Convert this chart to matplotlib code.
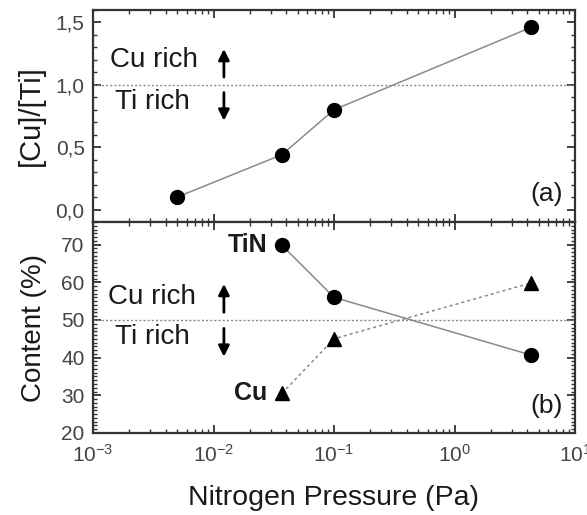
import numpy as np
import matplotlib
matplotlib.use("Agg")
from matplotlib import pyplot as plt
from matplotlib.ticker import MultipleLocator, FuncFormatter, LogLocator

# top panel: [Cu]/[Ti] ratio
p_ratio = [0.005, 0.037, 0.1, 4.3]
ratio = [0.10, 0.44, 0.80, 1.46]

# bottom panel: content (%)
p_content = [0.037, 0.1, 4.3]
tin = [69.8, 56.0, 40.7]
cu = [30.5, 45.0, 59.8]

plt.rcParams['font.family'] = ['Liberation Sans', 'DejaVu Sans']

fig = plt.figure(figsize=(5.87, 5.15), dpi=100)
ax1 = fig.add_axes([93/587, 1-222/515, (575-93)/587, (222-10)/515])
ax2 = fig.add_axes([93/587, 1-433/515, (575-93)/587, (433-222)/515], sharex=ax1)

grey = "#8a8a8a"
txt = "#1a1a1a"

ax1.plot(p_ratio, ratio, "-", color=grey, lw=1.1, zorder=1)
ax1.plot(p_ratio, ratio, "o", color="black", ms=10, zorder=2)
ax1.axhline(1.0, color=grey, ls=(0, (1.5, 1.5)), lw=1)

ax2.plot(p_content, tin, "-", color=grey, lw=1.1, zorder=1)
ax2.plot(p_content, tin, "o", color="black", ms=10, zorder=2)
ax2.plot(p_content, cu, color=grey, ls=(0, (2, 2)), lw=1.1, zorder=1)
ax2.plot(p_content, cu, "^", color="black", ms=10, zorder=2)
ax2.axhline(50, color=grey, ls=(0, (1.5, 1.5)), lw=1)

ax1.set_xscale("log")
ax1.set_xlim(1e-3, 10)
ax1.set_ylim(-0.1, 1.6)
ax2.set_ylim(20, 76)

comma = FuncFormatter(lambda v, pos: ("%.1f" % v).replace(".", ","))
ax1.yaxis.set_major_locator(MultipleLocator(0.5))
ax1.yaxis.set_minor_locator(MultipleLocator(0.1))
ax1.yaxis.set_major_formatter(comma)
ax2.yaxis.set_major_locator(MultipleLocator(10))
ax2.yaxis.set_minor_locator(MultipleLocator(1))

for ax in (ax1, ax2):
    ax.xaxis.set_major_locator(LogLocator(base=10, numticks=10))
    ax.xaxis.set_minor_locator(LogLocator(base=10, subs=np.arange(2, 10), numticks=10))
    ax.tick_params(which="both", direction="in", top=True, right=True,
                   labelsize=15, colors="#333333", labelcolor="#444444")
    ax.tick_params(which="major", length=6, width=1.3)
    ax.tick_params(which="minor", length=3, width=1)
    ax.tick_params(axis="y", pad=6)
    ax.tick_params(axis="x", pad=8)
    for s in ax.spines.values():
        s.set_linewidth(1.6)
        s.set_color("#333333")

ax1.tick_params(labelbottom=False)
ax2.set_xticks([1e-3, 1e-2, 1e-1, 1, 10])

ax1.set_ylabel("[Cu]/[Ti]", fontsize=21, color=txt, labelpad=8)
ax2.set_ylabel("Content (%)", fontsize=20, color=txt, labelpad=10)
ax2.set_xlabel("Nitrogen Pressure (Pa)", fontsize=20.5, color=txt, labelpad=14)

arrow = dict(arrowstyle="-|>", color="black", lw=2, mutation_scale=16)

# annotations, top panel
ax1.text(0.0032, 1.20, "Cu rich", fontsize=20, ha="center", va="center", color=txt)
ax1.text(0.0031, 0.86, "Ti rich", fontsize=20, ha="center", va="center", color=txt)
ax1.annotate("", xy=(0.0122, 1.31), xytext=(0.0122, 1.04), arrowprops=arrow)
ax1.annotate("", xy=(0.0122, 0.69), xytext=(0.0122, 0.96), arrowprops=arrow)
ax1.text(0.975, 0.13, "(a)", transform=ax1.transAxes, fontsize=19, ha="right", va="center", color=txt)

# annotations, bottom panel
ax2.text(0.0031, 56.2, "Cu rich", fontsize=20, ha="center", va="center", color=txt)
ax2.text(0.0031, 45.5, "Ti rich", fontsize=20, ha="center", va="center", color=txt)
ax2.annotate("", xy=(0.0122, 60.3), xytext=(0.0122, 51.3), arrowprops=arrow)
ax2.annotate("", xy=(0.0122, 39.5), xytext=(0.0122, 48.5), arrowprops=arrow)
ax2.text(0.028, tin[0], "TiN", fontsize=18, fontweight="bold", ha="right", va="center", color=txt)
ax2.text(0.028, cu[0], "Cu", fontsize=18, fontweight="bold", ha="right", va="center", color=txt)
ax2.text(0.975, 0.13, "(b)", transform=ax2.transAxes, fontsize=19, ha="right", va="center", color=txt)

fig.savefig("out.png", dpi=100)
